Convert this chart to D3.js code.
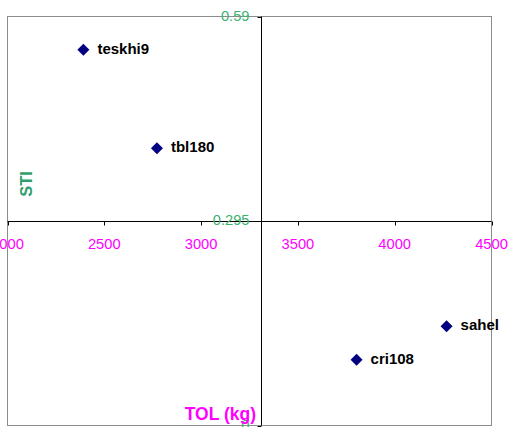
<!DOCTYPE html>
<html>
<head>
<meta charset="utf-8">
<script src="https://d3js.org/d3.v7.min.js"></script>
<style>
  body { margin: 0; background: #fff; }
  text { font-family: "Liberation Sans", Arial, sans-serif; }
</style>
</head>
<body>
<svg id="chart" width="510" height="427"></svg>
<script>
// data
var names = ["teskhi9", "tbl180", "sahel", "cri108"];
var tol = [2392, 2772, 4268, 3803];
var sti = [0.542, 0.400, 0.143, 0.095];
var xTicks = [2000, 2500, 3000, 3500, 4000, 4500];
var yTicks = [0, 0.295, 0.59];
var xCross = 3308, yCross = 0.295;

var svg = d3.select("#chart");
var pLeft = 7.5, pRight = 491.5, pTop = 16.5, pBottom = 425.5;

var x = d3.scaleLinear().domain([2000, 4500]).range([pLeft, pRight]);
var y = d3.scaleLinear().domain([0, 0.59]).range([pBottom, pTop]);

// plot area frame
svg.append("rect")
  .attr("x", pLeft).attr("y", pTop)
  .attr("width", pRight - pLeft).attr("height", pBottom - pTop)
  .attr("fill", "none").attr("stroke", "#8c8c8c").attr("stroke-width", 1);

// horizontal axis crossing at STI 0.295
var xAxis = svg.append("g").attr("transform", "translate(0," + (Math.round(y(yCross)) + 0.5) + ")");
xAxis.append("line").attr("x1", pLeft).attr("x2", pRight).attr("stroke", "#000");
xAxis.selectAll(".tk").data(xTicks).enter().append("line")
  .attr("x1", d => Math.round(x(d)) + 0.5).attr("x2", d => Math.round(x(d)) + 0.5)
  .attr("y1", 0).attr("y2", 4).attr("stroke", "#000");
xAxis.selectAll(".lb").data(xTicks).enter().append("text")
  .attr("x", d => x(d)).attr("y", 27)
  .attr("text-anchor", "middle")
  .attr("font-size", 14.7).attr("fill", "#ff00ff")
  .text(d => d);

// vertical axis crossing at TOL ~3308
var yAxis = svg.append("g").attr("transform", "translate(" + (Math.round(x(xCross)) + 0.5) + ",0)");
yAxis.append("line").attr("y1", pTop).attr("y2", pBottom).attr("stroke", "#000");
yAxis.selectAll(".tk").data(yTicks).enter().append("line")
  .attr("x1", -4).attr("x2", 0)
  .attr("y1", d => Math.round(y(d)) + 0.5).attr("y2", d => Math.round(y(d)) + 0.5)
  .attr("stroke", "#000");
yAxis.selectAll(".lb").data(yTicks).enter().append("text")
  .attr("x", -12).attr("y", d => y(d) + 4)
  .attr("text-anchor", "end")
  .attr("font-size", 14.7).attr("fill", "#3cb371")
  .text(d => d);

// axis titles
svg.append("text")
  .attr("transform", "translate(31.5,184) rotate(-90)")
  .attr("text-anchor", "middle")
  .attr("font-size", 16.5).attr("font-weight", "bold").attr("fill", "#2e9e6a")
  .text("STI");
svg.append("text")
  .attr("x", 256).attr("y", 420)
  .attr("text-anchor", "end")
  .attr("font-size", 17.5).attr("font-weight", "bold").attr("fill", "#ff00ff")
  .text("TOL (kg)");

// points
var pts = svg.selectAll(".pt").data(names).enter().append("g")
  .attr("transform", (d, i) => "translate(" + x(tol[i]) + "," + y(sti[i]) + ")");
pts.append("path")
  .attr("d", d3.symbol().type(d3.symbolSquare).size(72))
  .attr("transform", "rotate(45)")
  .attr("fill", "#000080");
pts.append("text")
  .attr("x", 14).attr("y", 4)
  .attr("font-size", 15).attr("font-weight", "bold").attr("fill", "#000")
  .text(d => d);
</script>
</body>
</html>
